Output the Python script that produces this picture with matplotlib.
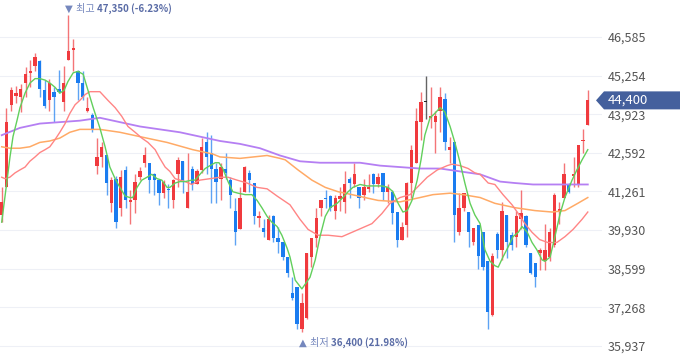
import matplotlib
matplotlib.use('Agg')
import matplotlib.pyplot as plt
from matplotlib.patches import Polygon
import numpy as np

plt.rcParams['font.family'] = ['Noto Sans CJK KR', 'DejaVu Sans']

# daily candles (KRW)
opens = [40450, 41400, 44250, 44550, 44500, 45000, 45350, 45600, 45750, 44750,
         44400, 44700, 44800, 44350, 45800, 46150, 45400, 45000, 44050, 43900,
         42150, 42450, 42500, 40850, 41700, 40700, 42000, 40900, 40950, 41750,
         42250, 42250, 41850, 41650, 41200, 41350, 40950, 41850, 42300, 40700,
         42050, 41500, 42000, 42950, 42600, 42050, 41700, 42050, 41650, 40600,
         39950, 41250, 41900, 41550, 40350, 40000, 39600, 40400, 39650, 39500,
         39000, 37750, 37950, 36500, 36900, 39000, 39650, 40700, 41050, 41100,
         40600, 41000, 40900, 41700, 41500, 41400, 41150, 41350, 41850, 41500,
         41900, 41250, 41250, 40550, 39600, 40100, 41550, 42250, 43650, 44350,
         43800, 43650, 44050, 44450, 42700, 42950, 39850, 40700, 40550, 39500,
         40100, 39850, 38850, 37000, 39800, 39250, 40450, 39750, 39700, 40300,
         40400, 39150, 38800, 39150, 38850, 39000, 39400, 40600, 41050, 41500,
         41800, 41500, 43000, 43550]
closes = [40900, 43650, 44750, 44650, 44800, 45300, 45400, 45900, 44800, 44200,
          45000, 44500, 44700, 45000, 46100, 46200, 45000, 44500, 44150, 43400,
          42450, 42800, 41550, 41650, 40200, 41750, 40950, 40950, 41600, 41950,
          42500, 41650, 41650, 41200, 41600, 41300, 41650, 42350, 41650, 41250,
          41500, 41950, 42800, 42450, 42050, 41600, 42100, 41900, 41150, 39850,
          41050, 42100, 41650, 40400, 40400, 39850, 40300, 39650, 39500, 39000,
          38450, 37600, 36700, 37400, 39150, 39650, 40350, 40950, 41000, 40700,
          41050, 41100, 41500, 41550, 41850, 41050, 41400, 41400, 41500, 41750,
          41250, 41400, 40500, 39600, 40050, 41550, 42700, 43700, 44350, 44350,
          43850, 43850, 44500, 42950, 42800, 40450, 40700, 41200, 39850, 40000,
          39050, 38650, 37100, 39050, 39250, 40600, 39500, 39400, 40400, 40500,
          39400, 38450, 38300, 39250, 39250, 39850, 41150, 40650, 41850, 41250,
          41850, 42850, 43050, 44400]
highs = [41400, 44150, 44850, 44900, 44950, 45550, 45800, 46050, 45800, 45100,
         45150, 44850, 45450, 45600, 47350, 46500, 45450, 45400, 44500, 43950,
         43100, 42950, 42500, 41750, 41800, 42000, 42150, 41300, 41850, 42100,
         42800, 42250, 41900, 41650, 41650, 41500, 41700, 42450, 42300, 42600,
         42150, 42050, 43100, 43300, 43200, 42250, 42250, 42600, 41750, 41050,
         41400, 42150, 42000, 41550, 40600, 40300, 40450, 40450, 40050, 39500,
         39000, 38300, 37950, 37750, 39150, 39650, 40700, 40950, 41300, 41150,
         41150, 41400, 41950, 41750, 42250, 41400, 41700, 41850, 41900, 41900,
         41900, 41500, 41300, 40550, 40200, 41600, 42850, 44150, 44700, 45250,
         44850, 44050, 44850, 44650, 43150, 42950, 41200, 41200, 40550, 40000,
         40100, 39850, 38850, 39150, 39850, 40900, 40450, 39850, 40600, 41300,
         40450, 39150, 38800, 39300, 40150, 40000, 41200, 40900, 42250, 41550,
         42450, 42850, 43400, 44750]
lows = [40200, 41400, 44050, 44300, 44000, 44500, 44850, 45400, 44500, 44150,
        44050, 43650, 44650, 44050, 45800, 45400, 44400, 44400, 44000, 43300,
        41850, 42100, 41150, 40550, 40000, 40400, 40700, 40150, 40500, 41650,
        42100, 41200, 41150, 40800, 41050, 40700, 40700, 41400, 41200, 40700,
        41300, 41500, 41900, 41850, 40850, 40850, 40950, 41700, 40700, 39400,
        39950, 41250, 41250, 40150, 40050, 39700, 39600, 39500, 39150, 38900,
        38300, 37500, 36500, 36400, 36850, 38650, 39350, 40400, 40700, 40600,
        40300, 40600, 40500, 41050, 41400, 40700, 40950, 41250, 41200, 41400,
        40950, 40850, 40150, 39350, 39600, 39700, 41050, 42250, 43050, 43750,
        43450, 42600, 43300, 42700, 42250, 39500, 39750, 40600, 39350, 39400,
        38600, 38550, 36500, 36950, 38950, 38900, 38950, 39250, 39350, 39950,
        39350, 38400, 37950, 38550, 38550, 38850, 39350, 40150, 41050, 41200,
        41400, 41400, 42600, 43550]

# moving averages (position in candle units, price)
ma5_x = [0, 1.05, 1.74, 2.37, 3.2, 3.84, 4.9, 5.94, 7.0, 8.0,
         9.1, 10.1, 11.2, 12.2, 13.1, 13.9, 15.0, 16.0, 17.1, 18.1,
         19.2, 20.6, 21.7, 22.7, 23.8, 24.8, 25.9, 26.9, 27.5, 28.4,
         29.4, 30.5, 31.5, 32.6, 33.6, 34.7, 35.3, 36.4, 37.4, 38.5,
         39.9, 40.6, 41.6, 42.7, 43.7, 44.8, 45.6, 46.4, 47.5, 48.5,
         49.6, 51.1, 52.5, 53.6, 54.6, 55.7, 56.7, 57.8, 58.8, 59.9,
         60.5, 61.6, 63.0, 64.7, 65.8, 66.8, 67.9, 68.9, 70.4, 71.6,
         72.7, 73.7, 75.2, 76.7, 77.9, 79.8, 81.1, 82.1, 83.2, 84.2,
         85.1, 86.1, 87.2, 88.0, 88.8, 89.9, 90.9, 92.0, 93.0, 94.1,
         95.1, 96.2, 97.2, 98.3, 99.3, 100.4, 101.4, 102.5, 103.5, 104.2,
         105.2, 106.3, 107.3, 108.4, 109.2, 110.3, 111.3, 112.3, 113.4, 114.0,
         115.1, 116.1, 117.2, 118.2, 119.7, 120.7, 121.8, 123.0]
ma5 = [40200, 41550, 42450, 43150, 43700, 44150, 44650, 45000, 45150, 45150,
       45100, 45000, 44850, 44650, 44750, 45050, 45350, 45400, 45300, 44750,
       44150, 43450, 42800, 42100, 41700, 41400, 41100, 41050, 41050, 41400,
       41650, 41750, 41850, 41700, 41650, 41400, 41400, 41550, 41600, 41600,
       41650, 41650, 41850, 42050, 42150, 42250, 42250, 42050, 41600, 41250,
       41200, 41150, 41150, 40950, 40700, 40400, 40200, 40050, 39750, 39300,
       39000, 38200, 37900, 38300, 38900, 39700, 40400, 40700, 40850, 41050,
       41250, 41400, 41500, 41450, 41450, 41450, 41400, 41250, 40850, 40550,
       40600, 40950, 41650, 42350, 43200, 43800, 43950, 44150, 44000, 43500,
       42950, 42250, 41550, 40850, 40450, 40150, 39250, 38850, 38700, 38650,
       39000, 39350, 39700, 39850, 40050, 39850, 39500, 39250, 38900, 38850,
       39000, 39700, 40500, 41050, 41650, 42000, 42350, 42700]

ma20_x = [0, 0.7, 1.7, 2.8, 3.8, 4.9, 5.9, 7.0, 8.0, 9.1,
          10.1, 11.2, 12.2, 13.3, 14.3, 15.4, 16.4, 17.5, 18.5, 19.6,
          20.6, 22.3, 23.8, 25.2, 26.5, 28.0, 29.4, 30.7, 32.2, 33.2,
          34.3, 35.3, 36.4, 37.4, 38.5, 39.9, 41.6, 43.7, 45.8, 47.5,
          49.4, 51.5, 53.6, 55.7, 57.8, 60.5, 62.6, 64.3, 66.4, 68.5,
          71.4, 73.5, 75.6, 77.7, 79.8, 81.5, 83.6, 85.7, 87.2, 89.3,
          91.4, 93.5, 94.5, 96.2, 97.9, 99.3, 100.4, 102.1, 103.5, 105.2,
          107.1, 108.4, 109.8, 111.3, 112.9, 114.6, 116.5, 118.2, 119.9, 121.8,
          123.0]
ma20 = [41750, 41700, 41750, 41900, 42000, 42100, 42300, 42450, 42600, 42700,
        42800, 43050, 43300, 43600, 43950, 44250, 44400, 44600, 44700, 44700,
        44700, 44400, 44150, 43850, 43500, 43300, 43100, 42950, 42700, 42400,
        42100, 41950, 41700, 41650, 41600, 41500, 41650, 41700, 41750, 41750,
        41650, 41550, 41400, 41350, 41100, 40800, 40300, 39950, 39750, 39750,
        39700, 39850, 40000, 40150, 40500, 40850, 41050, 41150, 41400, 41750,
        42000, 42150, 42200, 42150, 42050, 41900, 41850, 41550, 41500, 41150,
        40800, 40500, 40150, 39850, 39600, 39500, 39500, 39700, 39950, 40300,
        40550]

ma60_x = [0, 1.7, 3.8, 5.9, 8.0, 10.1, 12.2, 14.3, 16.4, 18.5,
          20.6, 24.8, 29.0, 34.7, 40.1, 44.3, 45.8, 50.0, 55.7, 58.4,
          59.5, 62.2, 65.1, 67.9, 70.6, 73.5, 76.2, 79.0, 83.6, 87.8,
          90.5, 94.1, 96.8, 100.4, 103.5, 107.7, 111.9, 115.5, 118.2, 120.9,
          123.0]
ma60 = [42800, 42750, 42750, 42800, 42950, 43000, 43100, 43300, 43400, 43400,
        43400, 43300, 43150, 42950, 42700, 42550, 42450, 42400, 42500, 42400,
        42350, 42000, 41650, 41400, 41250, 41150, 41050, 40950, 40900, 41050,
        41150, 41200, 41150, 41050, 40850, 40700, 40600, 40550, 40600, 40850,
        41050]

ma120_x = [0, 3.8, 8.0, 12.2, 16.4, 20.6, 24.8, 29.0, 33.2, 37.4,
           41.6, 45.8, 50.0, 54.2, 58.4, 62.6, 66.8, 71.0, 75.2, 79.4,
           83.6, 87.8, 92.0, 96.2, 100.4, 104.6, 107.7, 111.5, 118.6, 123.0]
ma120 = [43200, 43450, 43600, 43650, 43700, 43800, 43650, 43500, 43400, 43300,
         43150, 43000, 42900, 42750, 42500, 42300, 42250, 42250, 42250, 42150,
         42100, 42050, 42050, 41950, 41850, 41600, 41550, 41500, 41500, 41500]

ytick_values = [35937, 37268, 38599, 39930, 41261, 42592, 43923, 45254, 46585]
high_text = ('▼ 최고', '47,350 (-6.23%)')
low_text = ('▲ 최저', '36,400 (21.98%)')

RED = '#f03a3e'
BLUE = '#1a7cf0'

W, H = 680, 358
fig = plt.figure(figsize=(W / 100, H / 100), dpi=100)
ax = fig.add_axes([0, 0, 602 / W, 1])

o = np.array(opens)
c = np.array(closes)
hi = np.array(highs)
lo = np.array(lows)
idx = np.arange(len(c))
colors = np.where(c > o, RED, np.where(c < o, BLUE, '#222222'))

# candles
ax.vlines(idx, lo, hi, colors=colors, linewidth=1.0, alpha=0.7, zorder=2)
body_h = np.maximum(np.abs(c - o), 30)
ax.bar(idx, body_h, bottom=np.minimum(o, c), width=0.7, color=colors,
       linewidth=0, zorder=3)

# moving averages
ax.plot(ma120_x, ma120, color='#b57ff3', linewidth=1.3, zorder=4)
ax.plot(ma60_x, ma60, color='#ffaa66', linewidth=1.1, zorder=4)
ax.plot(ma20_x, ma20, color='#ff8585', linewidth=1.0, zorder=4)
ax.plot(ma5_x, ma5, color='#62cf5c', linewidth=1.0, zorder=5)

ax.set_xlim(-0.357, 602 / 4.765 - 0.357)
ax.set_ylim(35517, 47861)

for s in ax.spines.values():
    s.set_visible(False)
ax.set_xticks([])
ax.yaxis.tick_right()
ax.set_yticks(ytick_values)
ax.set_yticklabels([f'{v:,}' for v in ytick_values])
ax.tick_params(axis='y', length=0, pad=4.3, labelsize=9, labelcolor='#555555')
ax.grid(axis='y', color='#eef0f6', linewidth=0.8)
ax.set_axisbelow(True)

# high / low markers
i_hi = int(np.argmax(hi))
i_lo = int(np.argmin(lo))
fig.canvas.draw()
renderer = fig.canvas.get_renderer()
for i, y, dy, (label, value) in [(i_hi, hi[i_hi], 6, high_text),
                                 (i_lo, lo[i_lo], -10, low_text)]:
    t1 = ax.annotate(label, xy=(i, y), xytext=(-3, dy), textcoords='offset pixels',
                     ha='left', va='center', fontsize=7.3, color='#7587bd',
                     family=['DejaVu Sans', 'Noto Sans CJK KR'])
    w = t1.get_window_extent(renderer).width
    ax.annotate(value, xy=(i, y), xytext=(-3 + w + 2, dy), textcoords='offset pixels',
                ha='left', va='center', fontsize=7, color='#5a6ca6', fontweight='bold')

# last price tag
yp = ax.transData.transform((0, c[-1]))[1]
tag = [(596, yp), (604, yp + 9), (W, yp + 9), (W, yp - 9), (604, yp - 9)]
fig.add_artist(Polygon([(x / W, y / H) for x, y in tag], closed=True,
                       transform=fig.transFigure, facecolor='#44609d',
                       edgecolor='none', zorder=5))
fig.text(608 / W, yp / H, f'{c[-1]:,}', color='white', fontsize=9.5,
         va='center', ha='left', zorder=6)

fig.savefig('out.png', dpi=100)
